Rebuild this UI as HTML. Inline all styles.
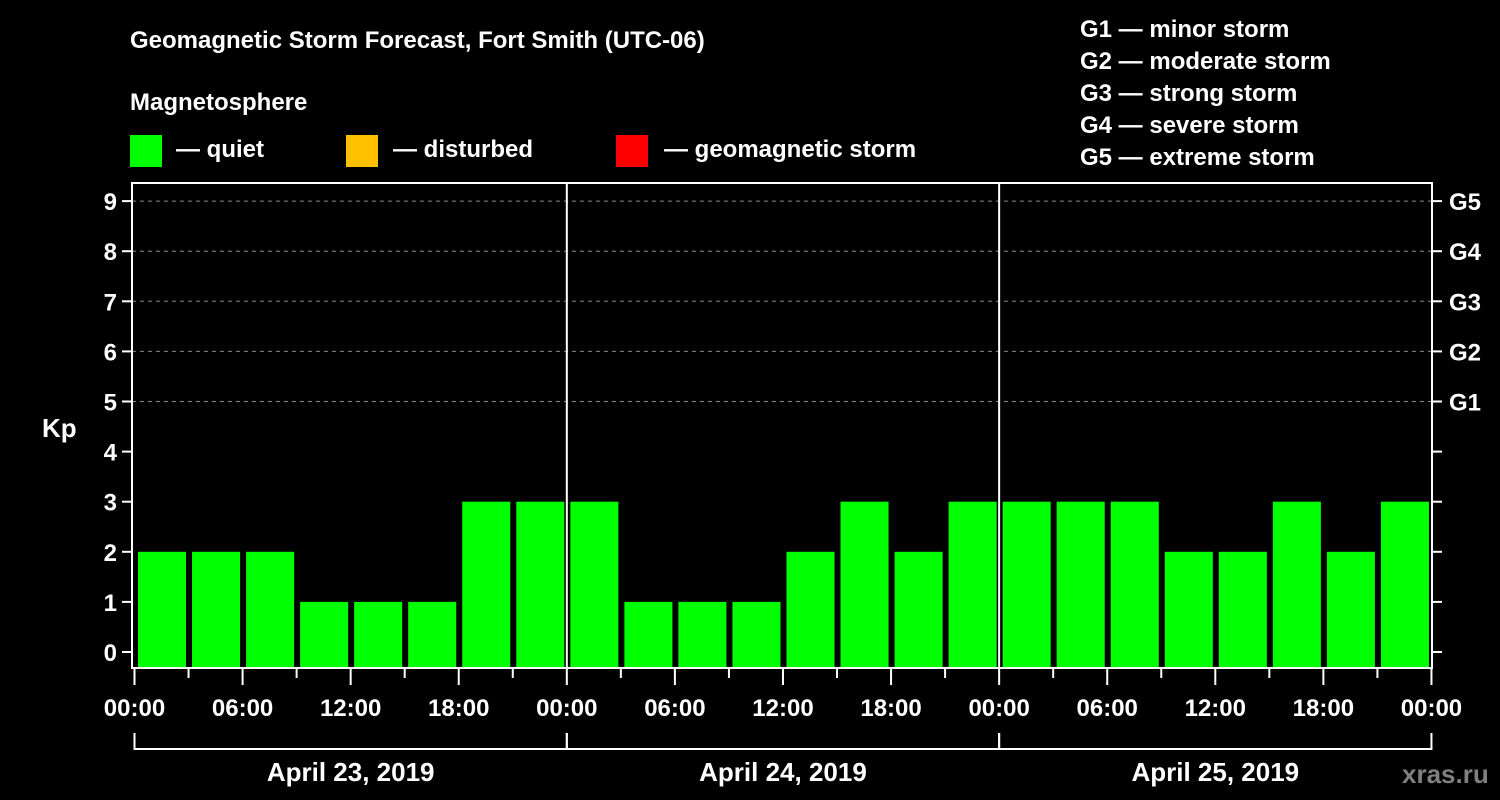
<!DOCTYPE html>
<html><head><meta charset="utf-8"><style>
body{margin:0;background:#000;width:1500px;height:800px;overflow:hidden}
svg{display:block;font-family:"Liberation Sans",Arial,sans-serif;font-weight:bold}
</style></head><body>
<svg id="c" width="1500" height="800">
<text x="130" y="48" fill="#fff" font-size="24">Geomagnetic Storm Forecast, Fort Smith (UTC-06)</text>
<text x="130" y="110" fill="#fff" font-size="24">Magnetosphere</text>
<g><rect x="130" y="135" width="32" height="32" fill="#00ff00"/><text x="176" y="157" fill="#fff" font-size="24">— quiet</text></g>
<g><rect x="346" y="135" width="32" height="32" fill="#ffc000"/><text x="393" y="157" fill="#fff" font-size="24">— disturbed</text></g>
<g><rect x="616" y="135" width="32" height="32" fill="#ff0000"/><text x="664" y="157" fill="#fff" font-size="24">— geomagnetic storm</text></g>
<g fill="#fff" font-size="24">
<text x="1080" y="37">G1 — minor storm</text><text x="1080" y="69">G2 — moderate storm</text><text x="1080" y="101">G3 — strong storm</text><text x="1080" y="133">G4 — severe storm</text><text x="1080" y="165">G5 — extreme storm</text></g>
<text x="42" y="437" fill="#fff" font-size="26">Kp</text>
<text x="1402" y="783" fill="#808080" font-size="26">xras.ru</text>
<g id="grid"></g><g id="bars"></g><g id="axes"></g>
</svg>
<script>
const values=[2,2,2,1,1,1,3,3, 3,1,1,1,2,3,2,3, 3,3,3,2,2,3,2,3];
const yTicks=[0,1,2,3,4,5,6,7,8,9];
const gLabels=["G1","G2","G3","G4","G5"];
const timeLabels=["00:00","06:00","12:00","18:00"];
const days=["April 23, 2019","April 24, 2019","April 25, 2019"];
const NS="http://www.w3.org/2000/svg";
const X0=134.5,SW=54.04,L=132,R=1432,T=183,B=668;
const y=v=>652-v*50.1;
const x=i=>X0+i*SW;
function mk(p,tag,at){const e=document.createElementNS(NS,tag);for(const k in at)e.setAttribute(k,at[k]);p.appendChild(e);return e;}
const grid=document.getElementById('grid'),bars=document.getElementById('bars'),axes=document.getElementById('axes');
gLabels.forEach((g,i)=>{const v=5+i;
 const l=mk(grid,'line',{x1:L,x2:R,y1:y(v),y2:y(v),stroke:'#888','stroke-dasharray':'4,4'});
 
 
 const t=mk(axes,'text',{x:1449,y:y(v)+9,fill:'#fff','font-size':24});t.textContent=g;
 
 });
values.forEach((v,i)=>{const c=v>=5?'#ff0000':(v>=4?'#ffc000':'#00ff00');
 const r=mk(bars,'rect',{x:x(i)+3.5,y:y(v),width:SW-6,height:B-y(v),fill:c});
 
 });
mk(axes,'rect',{x:L,y:T,width:R-L,height:B-T,fill:'none',stroke:'#fff','stroke-width':2});
[8,16].forEach(i=>mk(axes,'line',{x1:x(i),x2:x(i),y1:T,y2:B,stroke:'#fff','stroke-width':2}));
yTicks.forEach(v=>{mk(axes,'line',{x1:L-10,x2:L,y1:y(v),y2:y(v),stroke:'#fff','stroke-width':2});
 mk(axes,'line',{x1:R,x2:R+10,y1:y(v),y2:y(v),stroke:'#fff','stroke-width':2});
 const t=mk(axes,'text',{x:117,y:y(v)+9,fill:'#fff','font-size':24,'text-anchor':'end'});t.textContent=v;
 
 });
for(let i=0;i<=24;i++){const major=i%2==0;
 mk(axes,'line',{x1:x(i),x2:x(i),y1:B,y2:B+(major?17:10),stroke:'#fff','stroke-width':2});
 if(major){const t=mk(axes,'text',{x:x(i),y:716,fill:'#fff','font-size':24,'text-anchor':'middle'});
 t.textContent=timeLabels[(i/2)%4];
 
 }}
days.forEach((d,j)=>{const a=x(j*8),b=x(j*8+8);
 mk(axes,'path',{d:`M${a} 733V749H${b}V733`,fill:'none',stroke:'#fff','stroke-width':2});
 const t=mk(axes,'text',{x:(a+b)/2,y:781,fill:'#fff','font-size':26,'text-anchor':'middle'});t.textContent=d;
 
 });
</script>
</body></html>
